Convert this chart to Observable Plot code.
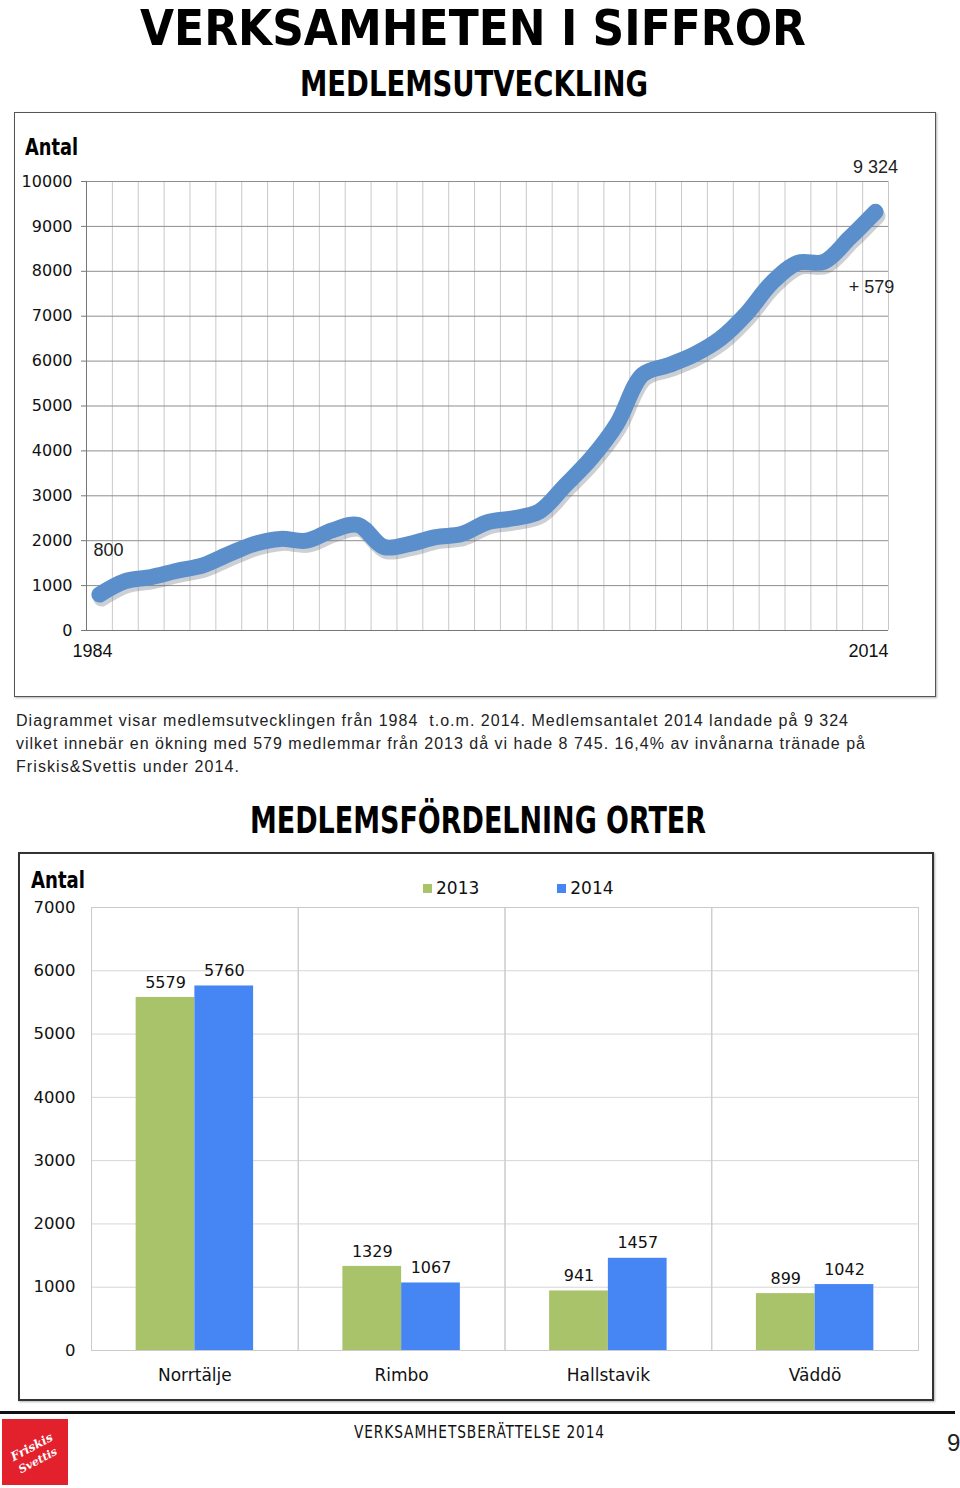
<!DOCTYPE html>
<html><head><meta charset="utf-8">
<script src="https://cdn.jsdelivr.net/npm/d3@7"></script>
<script src="https://cdn.jsdelivr.net/npm/@observablehq/plot@0.6"></script>
<style>
body{margin:0;background:#fff;}
#page{position:relative;width:960px;height:1488px;overflow:hidden;background:#fff;font-family:"DejaVu Sans",sans-serif;color:#111;}
.abs{position:absolute;white-space:nowrap;line-height:1;}
.cond{font-family:"Liberation Sans Narrow","DejaVu Sans Condensed",sans-serif;font-weight:bold;color:#000;}
.cap{font-family:"Liberation Sans",sans-serif;font-size:16px;color:#222;}
.box{position:absolute;box-sizing:border-box;}
.sw{display:inline-block;width:9px;height:9px;margin-right:4px;vertical-align:1px;}
svg{overflow:visible;}
</style>
</head><body>
<div id="page">
  <div class="abs cond fit" data-w="666" style="left:140px;top:0px;font-size:49px;line-height:normal;">VERKSAMHETEN I SIFFROR</div>
  <div class="abs cond fit" data-w="348" style="left:300px;top:66px;font-size:36px;">MEDLEMSUTVECKLING</div>
  <div class="box" style="left:14px;top:112px;width:922px;height:585px;border:1.5px solid #555;box-shadow:1px 1px 2px rgba(0,0,0,0.3);"></div>
  <div class="abs cond fit" data-w="53" style="left:25px;top:136px;font-size:23px;">Antal</div>
  <div id="chart1" class="abs" style="left:0;top:165px;"></div>

  <div class="abs cap fitls" data-w="833" style="left:16px;top:713px;">Diagrammet visar medlemsutvecklingen från 1984&nbsp; t.o.m. 2014. Medlemsantalet 2014 landade på 9 324</div>
  <div class="abs cap fitls" data-w="850" style="left:16px;top:736px;">vilket innebär en ökning med 579 medlemmar från 2013 då vi hade 8 745. 16,4% av invånarna tränade på</div>
  <div class="abs cap fitls" data-w="224" style="left:16px;top:759px;">Friskis&amp;Svettis under 2014.</div>

  <div class="abs cond fit" data-w="456" style="left:250px;top:802px;font-size:37px;">MEDLEMSFÖRDELNING ORTER</div>
  <div class="box" style="left:18px;top:852px;width:916px;height:549px;border:2px solid #333;box-shadow:1px 1px 2px rgba(0,0,0,0.3);"></div>
  <div class="abs cond fit" data-w="54" style="left:31px;top:869px;font-size:23px;">Antal</div>
  <div id="legend" class="abs" style="left:423px;top:880px;font-family:'DejaVu Sans',sans-serif;font-size:17px;"></div>
  <div id="chart2" class="abs" style="left:0;top:890px;"></div>

  <div class="abs" style="left:0;top:1411px;width:955px;height:3px;background:#111;"></div>
  <div class="abs" style="left:2px;top:1419px;width:66px;height:66px;background:#e3212d;overflow:hidden;">
    <div class="abs" style="left:7px;top:22px;color:#fff;font-family:'DejaVu Serif',serif;font-style:italic;font-weight:bold;font-size:12px;transform:rotate(-28deg);">Friskis</div>
    <div class="abs" style="left:15px;top:36px;color:#fff;font-family:'DejaVu Serif',serif;font-style:italic;font-weight:bold;font-size:11px;transform:rotate(-28deg);">Svettis</div>
  </div>
  <div class="abs fit" data-w="251" style="left:354px;top:1424px;font-family:'Liberation Sans Narrow','DejaVu Sans Condensed',sans-serif;font-size:17px;letter-spacing:1px;color:#111;">VERKSAMHETSBERÄTTELSE 2014</div>
  <div class="abs" style="left:947px;top:1431px;font-family:'Liberation Sans',sans-serif;font-size:24px;color:#222;">9</div>
</div>
<script>
// ---------- data ----------
const years = [1984,1985,1986,1987,1988,1989,1990,1991,1992,1993,1994,1995,1996,1997,1998,1999,2000,2001,2002,2003,2004,2005,2006,2007,2008,2009,2010,2011,2012,2013,2014];
const members = [800,1100,1190,1330,1450,1700,1930,2040,2000,2230,2350,1860,1930,2080,2150,2410,2500,2650,3230,3830,4600,5700,5910,6150,6500,7050,7750,8190,8210,8745,9324];
const yTicks1 = [0,1000,2000,3000,4000,5000,6000,7000,8000,9000,10000];
const xTickLabels = [1984,2014];

const places = ["Norrtälje","Rimbo","Hallstavik","Väddö"];
const seriesNames = ["2013","2014"];
const values2013 = [5579,1329,941,899];
const values2014 = [5760,1067,1457,1042];
const yTicks2 = [0,1000,2000,3000,4000,5000,6000,7000];
const colors = ["#a9c36b","#4686f4"];

// ---------- chart 1: line ----------
const lineData = years.map((y,i)=>({year:y, members:members[i]}));
const first = lineData[0], last = lineData[lineData.length-1], prev = lineData[lineData.length-2];
const colEdges = years.map(y=>y-0.5).concat([years[years.length-1]+0.5]);

const chart1 = Plot.plot({
  width:960, height:500,
  marginLeft:86, marginRight:72, marginTop:16, marginBottom:35,
  style:{background:"transparent", overflow:"visible"},
  x:{domain:[colEdges[0], colEdges[colEdges.length-1]]},
  y:{domain:[0,10000]},
  marks:[
    Plot.gridX(colEdges,{stroke:"#c9c9c9", strokeOpacity:1}),
    Plot.gridY(yTicks1,{stroke:"#8e8e8e", strokeOpacity:1}),
    Plot.ruleX([colEdges[0]],{stroke:"#777"}),
    Plot.ruleY([0],{stroke:"#777"}),
    Plot.axisY(yTicks1,{tickSize:5, tickPadding:9, stroke:"#777", fontSize:16, fontFamily:"DejaVu Sans", fill:"#111", tickFormat:d=>String(d), label:null}),
    Plot.axisX(xTickLabels,{tickSize:0, tickPadding:14, fontSize:18, fontFamily:"Liberation Sans", fill:"#111", tickFormat:d=>String(d), dx:-7, label:null}),
    Plot.line(lineData,{x:"year", y:"members", stroke:"#6d7785", strokeOpacity:0.35, strokeWidth:16, curve:"catmull-rom", dx:2, dy:4, strokeLinecap:"round"}),
    Plot.line(lineData,{x:"year", y:"members", stroke:"#5b8fcb", strokeWidth:16, curve:"catmull-rom", strokeLinecap:"round", strokeLinejoin:"round"}),
    Plot.text([first],{x:"year", y:"members", text:d=>String(d.members), dx:9, dy:-44, fontSize:18, fontFamily:"Liberation Sans", fill:"#222"}),
    Plot.text([last],{x:"year", y:"members", text:d=>d3.format(",")(d.members).replace(","," "), dy:-45, fontSize:18, fontFamily:"Liberation Sans", fill:"#222"}),
    Plot.text([last],{x:"year", y:"members", text:d=>"+ "+(d.members-prev.members), dy:75, dx:-4, fontSize:18, fontFamily:"Liberation Sans", fill:"#222"})
  ]
});
document.getElementById("chart1").appendChild(chart1);

// ---------- chart 2: grouped bars ----------
const barData = [];
places.forEach((p,i)=>{
  barData.push({place:p, year:seriesNames[0], value:values2013[i]});
  barData.push({place:p, year:seriesNames[1], value:values2014[i]});
});
const chart2 = Plot.plot({
  width:960, height:505,
  marginLeft:91, marginRight:42, marginTop:17, marginBottom:45,
  style:{background:"transparent", overflow:"visible"},
  fx:{domain:places, padding:0, round:false, label:null},
  x:{domain:seriesNames, paddingInner:0, paddingOuter:0.76, round:false, axis:null},
  y:{domain:[0,7000]},
  color:{domain:seriesNames, range:colors},
  marks:[
    Plot.gridY(yTicks2,{stroke:"#d6d6d6", strokeOpacity:1}),
    Plot.frame({stroke:"#cbcbcb"}),
    Plot.barY(barData,{fx:"place", x:"year", y:"value", fill:"year"}),
    Plot.text(barData,{fx:"place", x:"year", y:"value", text:d=>String(d.value), dy:-15, fontSize:16, fontFamily:"DejaVu Sans", fill:"#111"}),
    Plot.axisY(yTicks2,{tickSize:0, tickPadding:16, fontSize:16.5, fontFamily:"DejaVu Sans", fill:"#111", tickFormat:d=>String(d), label:null}),
    Plot.axisFx({tickSize:0, tickPadding:18, fontSize:17, fontFamily:"DejaVu Sans", fill:"#111", label:null, anchor:"bottom"})
  ]
});
document.getElementById("chart2").appendChild(chart2);

// legend
const lg = document.getElementById("legend");
seriesNames.forEach((s,i)=>{
  const sp = document.createElement("span");
  sp.style.marginRight = i===0 ? "78px" : "0";
  sp.innerHTML = `<span class="sw" style="background:${colors[i]}"></span>${s}`;
  lg.appendChild(sp);
});

// fit text widths
document.querySelectorAll(".fit").forEach(el=>{
  const w = el.getBoundingClientRect().width, t = +el.dataset.w;
  el.style.transformOrigin = "0 0";
  el.style.transform = `scaleX(${t/w})`;
});
document.querySelectorAll(".fitls").forEach(el=>{
  const w = el.getBoundingClientRect().width, t = +el.dataset.w;
  const n = el.textContent.length;
  el.style.letterSpacing = ((t-w)/n)+"px";
});
</script>
</body></html>
